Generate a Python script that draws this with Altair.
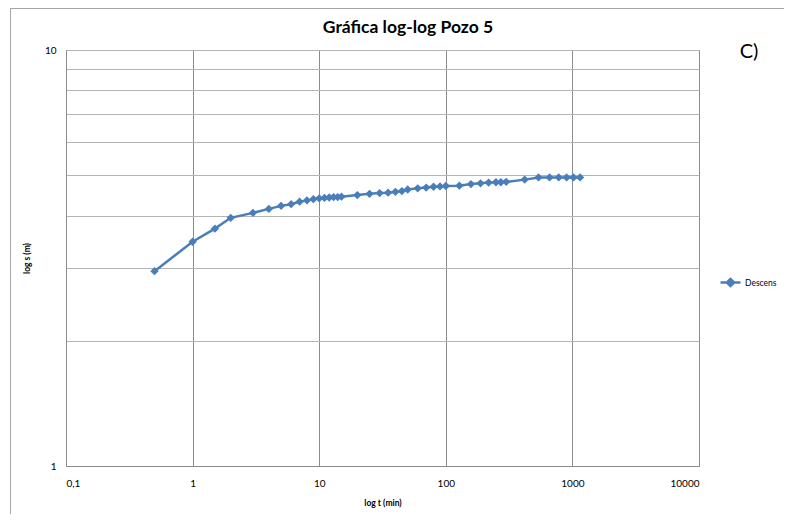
import altair as alt
import pandas as pd

# Data
t_min = [0.5, 1, 1.5, 2, 3, 4, 5, 6, 7, 8, 9, 10, 11, 12, 13, 14, 15, 20, 25, 30,
         35, 40, 45, 50, 60, 70, 80, 90, 100, 128, 158, 188, 218, 249, 272, 300,
         420, 540, 660, 780, 900, 1020, 1150]
s_m = [2.94, 3.46, 3.72, 3.95, 4.06, 4.15, 4.22, 4.26, 4.32, 4.35, 4.38, 4.40, 4.41,
       4.42, 4.43, 4.43, 4.44, 4.48, 4.51, 4.53, 4.54, 4.56, 4.58, 4.62, 4.65, 4.67,
       4.69, 4.70, 4.71, 4.72, 4.76, 4.78, 4.80, 4.81, 4.81, 4.82, 4.88, 4.94, 4.94,
       4.94, 4.94, 4.94, 4.94]
series_name = "Descens"
chart_title = "Gráfica log-log Pozo 5"
panel_tag = "C)"
x_ticks = [0.1, 1, 10, 100, 1000, 10000]
y_ticks = [1, 2, 3, 4, 5, 6, 7, 8, 9, 10]

df = pd.DataFrame({"t": t_min, "s": s_m, "serie": [series_name] * len(t_min)})
one = pd.DataFrame({"k": [0]})

BLUE = "#4a7ebb"
FONT = "Lato"

line = alt.Chart(df).mark_line(
    strokeWidth=2.5,
    point=alt.OverlayMarkDef(shape="diamond", size=70, filled=True, opacity=1),
).encode(
    x=alt.X("t:Q",
            scale=alt.Scale(type="log", domain=[0.1, 10000], nice=False),
            axis=alt.Axis(values=x_ticks, title="log t (min)",
                          labelExpr="replace(format(datum.value, '~g'), '.', ',')",
                          grid=True, gridColor="#8c8c8c", gridWidth=1,
                          ticks=False, labelPadding=12, titlePadding=10,
                          labelFontSize=10, titleFontSize=8.5, titleFontWeight="bold",
                          labelFont=FONT, titleFont=FONT, labelColor="#000",
                          titleColor="#000", domainColor="#8c8c8c")),
    y=alt.Y("s:Q",
            scale=alt.Scale(type="log", domain=[1, 10], nice=False),
            axis=alt.Axis(values=y_ticks, title="log s  (m)",
                          labelExpr="(datum.value == 1 || datum.value == 10) ? datum.label : ''",
                          grid=True, gridColor="#b4b4b4", gridWidth=1,
                          ticks=False, labelPadding=10, titlePadding=13,
                          labelFontSize=10, titleFontSize=8.5, titleFontWeight="bold",
                          labelFont=FONT, titleFont=FONT, labelColor="#000",
                          titleColor="#000", domainColor="#8c8c8c")),
    color=alt.Color("serie:N",
                    scale=alt.Scale(range=[BLUE]),
                    legend=alt.Legend(title=None, orient="none", legendX=653, legendY=221,
                                      symbolType="M-1,0L1,0M-0.36,0L0,-0.36L0.36,0L0,0.36Z",
                                      symbolSize=400, symbolStrokeWidth=2.5,
                                      symbolFillColor=BLUE, symbolStrokeColor=BLUE,
                                      labelFont=FONT, labelFontSize=8.5, labelColor="#000",
                                      labelOffset=3)),
)

frame_top = alt.Chart(one).mark_rule(color="#a6a6a6", strokeWidth=1).encode(
    x=alt.value(-56), x2=alt.value(730), y=alt.value(-41.5))
frame_left = alt.Chart(one).mark_rule(color="#a6a6a6", strokeWidth=1).encode(
    x=alt.value(-55.5), y=alt.value(-41.5), y2=alt.value(480))

title_text = alt.Chart(one).mark_text(text=chart_title, fontSize=17.5, font=FONT,
                                      fontWeight="bold", color="#000",
                                      align="center", baseline="middle").encode(
    x=alt.value(342), y=alt.value(-22))

label_c = alt.Chart(one).mark_text(text=panel_tag, fontSize=20, font=FONT, color="#000",
                                   align="center", baseline="middle").encode(
    x=alt.value(683), y=alt.value(2))

chart = alt.layer(frame_top, frame_left, line, title_text, label_c).properties(
    width=633, height=416,
    autosize=alt.AutoSizeParams(type="none"),
    padding={"left": 58, "top": 42, "right": 85, "bottom": 48},
).configure_view(stroke="#8c8c8c", strokeWidth=1).configure(background="white")

chart.save("out.html", embed_options={"renderer": "svg", "actions": False})
